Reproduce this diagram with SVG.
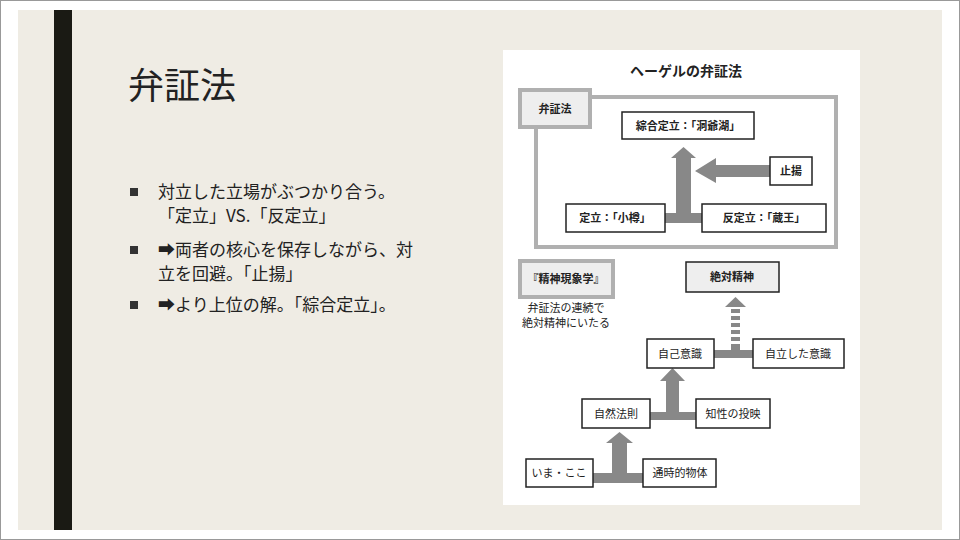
<svg xmlns="http://www.w3.org/2000/svg" width="960" height="540" viewBox="0 0 960 540">
<style>
text{font-family:"Noto Sans CJK JP","Liberation Sans",sans-serif;fill:#222}
.b{fill:#fff;stroke:#222;stroke-width:1.5}
.g{fill:#eee;stroke:#222;stroke-width:1.5}
.t{font-size:11px;text-anchor:middle}
.tb{font-size:11px;text-anchor:middle;font-weight:bold}
.ar{fill:#888}
.bl{font-size:17px}
</style>
<rect width="960" height="540" fill="#fff" stroke="#999" stroke-width="2"/>
<rect x="18" y="10" width="924" height="520" fill="#efece4"/>
<rect x="54" y="10" width="18" height="520" fill="#1a1a14"/>
<text x="128" y="99" font-size="36">弁証法</text>
<g id="bullets">
<rect x="130" y="188" width="8" height="8" fill="#333"/>
<text class="bl" x="158" y="198">対立した立場がぶつかり合う。</text>
<text class="bl" x="158" y="222">「定立」VS.「反定立」</text>
<rect x="130" y="246" width="8" height="8" fill="#333"/>
<text class="bl" x="158" y="256">➡両者の核心を保存しながら、対</text>
<text class="bl" x="158" y="280">立を回避。「止揚」</text>
<rect x="130" y="301" width="8" height="8" fill="#333"/>
<text class="bl" x="158" y="311">➡より上位の解。「綜合定立」。</text>
</g>
<rect x="503" y="50" width="357" height="455" fill="#fff"/>
<text x="686" y="76" font-size="14" font-weight="bold" text-anchor="middle">ヘーゲルの弁証法</text>
<rect x="536" y="97" width="300" height="150" fill="none" stroke="#b0b0b0" stroke-width="4"/>
<g id="connectors">
<rect class="ar" x="665" y="213" width="37" height="10"/>
<polygon class="ar" points="676,218 676,158 671,158 683.5,147 696,158 691,158 691,218"/>
<polygon class="ar" points="770,165 716,165 716,158 695,171 716,183 716,177 770,177"/>
<rect class="ar" x="714" y="350" width="39" height="8"/>
<g fill="#888"><polygon points="725,307 735.5,297 746,307"/>
<rect x="731" y="309" width="9" height="4"/><rect x="731" y="316" width="9" height="4"/><rect x="731" y="323" width="9" height="4"/><rect x="731" y="330" width="9" height="4"/><rect x="731" y="337" width="9" height="4"/><rect x="731" y="344" width="9" height="6"/></g>
<rect class="ar" x="650" y="412" width="46" height="8"/>
<polygon class="ar" points="666,414 666,381 660,381 672.5,368 685,381 679,381 679,414"/>
<rect class="ar" x="593" y="473" width="50" height="10"/>
<polygon class="ar" points="612,475 612,443 606,443 619.5,432 633,443 627,443 627,475"/>
</g>
<g id="n-label"><rect x="520" y="90" width="70" height="37" fill="#eee" stroke="#b0b0b0" stroke-width="4"/><text class="tb" x="555" y="113">弁証法</text></g>
<g id="n-sougou"><rect class="b" x="622" y="112" width="132" height="27"/><text class="tb" x="688" y="130">綜合定立：「洞爺湖」</text></g>
<g id="n-shiyou"><rect class="b" x="770" y="157" width="42" height="28"/><text class="tb" x="791" y="175">止揚</text></g>
<g id="n-teiritsu"><rect class="b" x="566" y="204" width="99" height="28"/><text class="tb" x="615" y="222">定立：「小樽」</text></g>
<g id="n-han"><rect class="b" x="702" y="204" width="124" height="28"/><text class="tb" x="764" y="222">反定立：「蔵王」</text></g>
<g id="n-seishin"><rect x="520" y="261" width="93" height="36" fill="#eee" stroke="#b0b0b0" stroke-width="4"/><text class="tb" x="566" y="283">『精神現象学』</text></g>
<text class="t" x="566" y="312" font-size="9.5">弁証法の連続で</text>
<text class="t" x="566" y="327" font-size="9.5">絶対精神にいたる</text>
<g id="n-zettai"><rect class="g" x="686" y="262" width="93" height="30"/><text class="tb" x="732" y="281">絶対精神</text></g>
<g id="n-jiko"><rect class="b" x="647" y="339" width="67" height="29"/><text class="t" x="680" y="358">自己意識</text></g>
<g id="n-jiritsu"><rect class="b" x="753" y="339" width="91" height="29"/><text class="t" x="798" y="358">自立した意識</text></g>
<g id="n-shizen"><rect class="b" x="582" y="399" width="68" height="29"/><text class="t" x="616" y="418">自然法則</text></g>
<g id="n-chisei"><rect class="b" x="696" y="399" width="74" height="29"/><text class="t" x="733" y="418">知性の投映</text></g>
<g id="n-ima"><rect class="b" x="526" y="459" width="67" height="28"/><text class="t" x="559" y="477">いま・ここ</text></g>
<g id="n-tsuuji"><rect class="b" x="643" y="459" width="73" height="28"/><text class="t" x="680" y="477">通時的物体</text></g>
</svg>
